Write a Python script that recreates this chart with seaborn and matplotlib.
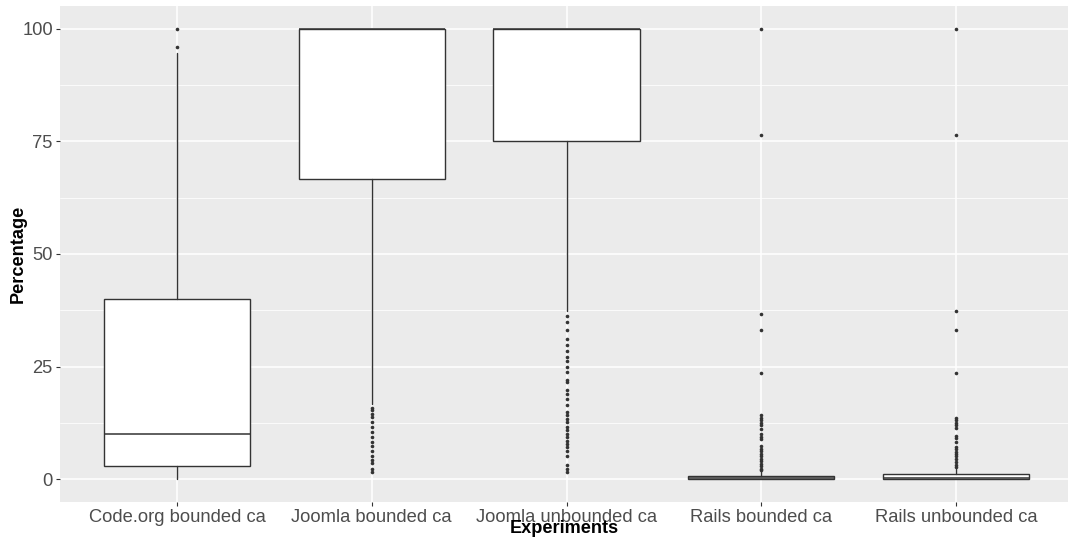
import matplotlib
matplotlib.use("Agg")
import matplotlib.pyplot as plt
import seaborn as sns
import pandas as pd
from matplotlib.ticker import FixedLocator

# ---- data ----
categories = ["Code.org bounded ca", "Joomla bounded ca", "Joomla unbounded ca",
              "Rails bounded ca", "Rails unbounded ca"]
q1 = [2.9, 66.7, 75.0, 0.0, 0.0]
medians = [10.0, 100.0, 100.0, 0.3, 0.4]
q3 = [40.0, 100.0, 100.0, 0.8, 1.1]
whisker_low = [0.2, 16.8, 37.4, 0.0, 0.0]
whisker_high = [94.6, 100.0, 100.0, 1.9, 2.4]

outliers_codeorg = [96.0, 100.0]
outliers_joomla_bounded = [15.8, 15.3, 14.5, 13.8, 12.8, 11.7, 10.6, 9.5, 8.4, 7.4,
                           6.3, 5.2, 4.4, 3.6, 2.4, 1.7]
outliers_joomla_unbounded = [36.3, 35.0, 33.1, 31.2, 29.8, 28.4, 27.1, 26.2, 24.9, 23.8,
                             22.1, 21.6, 19.9, 19.0, 17.9, 16.5, 14.9, 14.2, 13.4, 12.7,
                             11.6, 10.9, 10.1, 9.4, 8.6, 7.9, 7.2, 6.4, 5.3, 3.3, 2.4, 1.6]
outliers_rails_bounded = [100.0, 76.5, 36.6, 33.2, 23.5, 14.2, 13.7, 13.1, 12.5, 12.0,
                          11.2, 10.0, 9.4, 9.0, 7.4, 6.8, 6.3, 5.7, 5.1, 4.6, 4.1,
                          3.5, 2.9, 2.4, 2.0]
outliers_rails_unbounded = [100.0, 76.5, 37.4, 33.2, 23.5, 13.7, 13.1, 12.5, 12.0, 11.4,
                            9.7, 9.1, 8.3, 7.3, 6.8, 6.1, 5.7, 5.2, 4.6, 3.8, 3.3, 2.7]

y_ticks = [0, 25, 50, 75, 100]
x_title = "Experiments"
y_title = "Percentage"

# ---- style ----
sns.set_theme(style="darkgrid", rc={
    "axes.facecolor": "#EBEBEB",
    "grid.color": "white",
    "axes.edgecolor": "#EBEBEB",
})
plt.rcParams["font.family"] = ["Liberation Sans", "DejaVu Sans"]

fig = plt.figure(figsize=(10.68, 5.39), dpi=100)
ax = fig.add_axes([60 / 1068, 37 / 539, 1 - 60 / 1068, 496 / 539])

outlier_lists = [outliers_codeorg, outliers_joomla_bounded, outliers_joomla_unbounded,
                 outliers_rails_bounded, outliers_rails_unbounded]
rows = []
for cat, vals in zip(categories, outlier_lists):
    for v in vals:
        rows.append({"Experiments": cat, "Percentage": v})
df_out = pd.DataFrame(rows)

sns.stripplot(data=df_out, x="Experiments", y="Percentage", order=categories,
              jitter=False, color="#333333", size=2.6, linewidth=0, ax=ax, zorder=4)

stats = []
for i, cat in enumerate(categories):
    stats.append({"label": cat, "q1": q1[i], "med": medians[i], "q3": q3[i],
                  "whislo": whisker_low[i], "whishi": whisker_high[i], "fliers": []})

edge = "#333333"
ax.bxp(stats, positions=list(range(len(categories))), widths=0.75, patch_artist=True,
       showcaps=False, showfliers=False,
       boxprops=dict(facecolor="white", edgecolor=edge, linewidth=1.0),
       medianprops=dict(color=edge, linewidth=1.1),
       whiskerprops=dict(color=edge, linewidth=1.0),
       manage_ticks=False, zorder=3)

ax.set_xlim(-0.6, 4.574)
ax.set_ylim(-5, 105)
ax.set_xticks(range(len(categories)))
ax.set_xticklabels(categories)
ax.yaxis.set_major_locator(FixedLocator(y_ticks))
ax.set_yticklabels([str(t) for t in y_ticks])
ax.yaxis.set_minor_locator(FixedLocator([12.5, 37.5, 62.5, 87.5]))

ax.grid(True, which="major", axis="both", color="white", linewidth=1.1)
ax.grid(True, which="minor", axis="y", color="white", linewidth=0.55)
ax.set_axisbelow(True)
for s in ax.spines.values():
    s.set_visible(False)

ax.tick_params(axis="both", which="major", length=2.7, width=0.8, color="#333333",
               labelcolor="#4D4D4D", labelsize=13.2, pad=2.5, bottom=True, left=True)
ax.tick_params(axis="y", which="minor", length=0, left=False)

ax.set_xlabel(x_title, fontsize=13.1, fontweight="bold", color="black")
ax.set_ylabel(y_title, fontsize=13.1, fontweight="bold", color="black")
ax.xaxis.set_label_coords(0.5, -0.036)
ax.yaxis.set_label_coords(-33 / 1008, 0.5)

fig.savefig("out.png", dpi=100, facecolor="white")
